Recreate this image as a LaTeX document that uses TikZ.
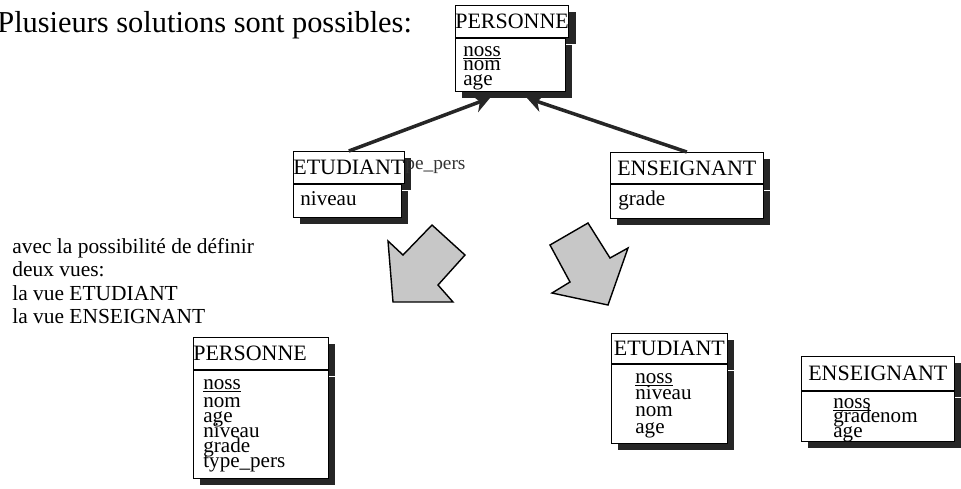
\documentclass[tikz,border=0pt]{standalone}
\usepackage{fontspec}
\setmainfont{Liberation Serif}
\usetikzlibrary{shadows,arrows.meta}
\newcommand\attrfont[1]{\fontsize{12}{#1}\selectfont\lineskiplimit-20pt\relax}

\begin{document}
\begin{tikzpicture}[x=0.02cm,y=-0.02cm,
    ombre/.style={drop shadow={shadow xshift=0.14cm,shadow yshift=-0.14cm,fill=black!85,opacity=1}},
    entete/.style={draw=black,fill=white,ombre,inner sep=0pt,anchor=north west,font=\fontsize{12.5}{14}\selectfont},
    attrs/.style={draw=black,fill=white,ombre,inner ysep=0pt,anchor=north west,align=left,font=\attrfont{8.5}},
    lien/.style={line width=2pt,draw=black!85,-{Stealth[length=0.32cm,width=0.36cm]}},
    bloc/.style={draw=black,line width=0.8pt,fill=black!22}]
    \useasboundingbox (0,0) rectangle (961,488);

    \node[anchor=base west,inner sep=0pt,font=\fontsize{17.3}{20}\selectfont] (titre) at (-3,32) {Plusieurs solutions sont possibles:};

    \node[entete,minimum width=2.2cm,minimum height=0.64cm]  (p0h) at (455,5)   {PERSONNE};
    \node[attrs,text height=0.36cm,text depth=0.7cm,text width=1.88cm,inner xsep=0.16cm] (p0b) at (p0h.south west) {\underline{noss}\\nom\\age};

    \node[entete,minimum width=2.16cm,minimum height=0.64cm] (e1h) at (293,151) {ETUDIANT};
    \node[attrs,text height=0.43cm,text depth=0.23cm,text width=1.88cm,inner xsep=0.14cm] (e1b) at (e1h.south west) {niveau};
    \node[anchor=west,inner sep=0pt,text=black!80,font=\fontsize{11}{13}\selectfont] (tp) at (405,167) {pe\_pers};

    \node[entete,minimum width=3.06cm,minimum height=0.62cm] (s1h) at (610,152) {ENSEIGNANT};
    \node[attrs,text height=0.43cm,text depth=0.25cm,text width=2.74cm,inner xsep=0.16cm] (s1b) at (s1h.south west) {grade};

    \coordinate (p0g) at (490,98);
    \coordinate (p0d) at (527,98);
    \draw[lien] (e1h.north) -- (p0g);
    \draw[lien] (s1h.north) -- (p0d);

    \node[anchor=north west,inner sep=0pt,align=left,font=\fontsize{12.2}{13.3}\selectfont] (vues) at (12,238)
        {avec la possibilité de définir\\deux vues:\\la vue ETUDIANT\\la vue ENSEIGNANT};

    \filldraw[bloc] (388,241) -- (403,255) -- (432,225) -- (465,255) -- (438,285) -- (453,302) -- (393,302) -- cycle;
    \filldraw[bloc] (550,245) -- (588,223) -- (610,258) -- (628,248) -- (608,305) -- (552,293) -- (570,282) -- cycle;

    \node[entete,minimum height=0.64cm,text width=2.7cm,align=left] (p2h) at (193,337) {PERSONNE};
    \node[attrs,text height=0.38cm,text depth=1.78cm,text width=2.3cm,inner xsep=0.2cm] (p2b) at (p2h.south west)
        {\underline{noss}\\[2pt]nom\\age\\niveau\\grade\\type\_pers};

    \node[entete,minimum width=2.32cm,minimum height=0.6cm] (e2h) at (611,333) {ETUDIANT};
    \node[attrs,text height=0.38cm,text depth=1.2cm,text width=1.36cm,inner xsep=0.48cm,font=\attrfont{9.6}] (e2b) at (e2h.south west)
        {\underline{noss}\\niveau\\nom\\age};

    \node[entete,minimum width=3.06cm,minimum height=0.68cm] (s2h) at (801,356) {ENSEIGNANT};
    \node[attrs,text height=0.34cm,text depth=0.66cm,text width=1.78cm,inner xsep=0.64cm] (s2b) at (s2h.south west)
        {\underline{noss}\\gradenom\\age};
\end{tikzpicture}
\end{document}
